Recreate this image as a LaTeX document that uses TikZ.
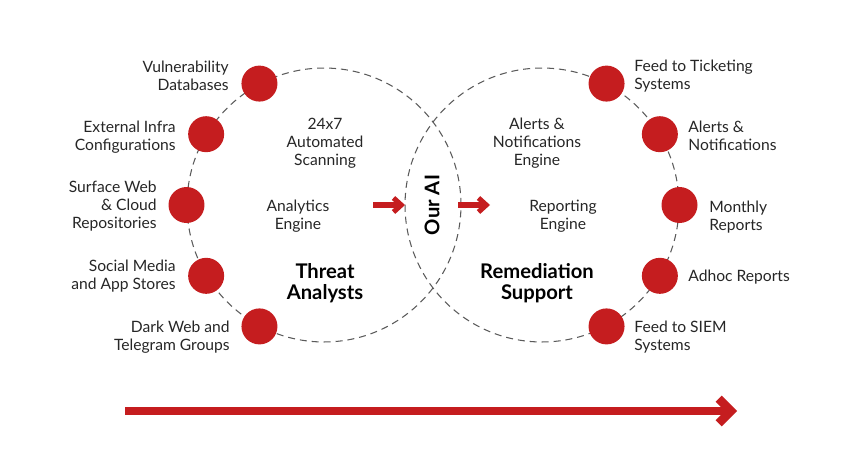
\documentclass[tikz,border=0pt]{standalone}
\usepackage{fontspec}
\setmainfont{Lato}
\usepackage{tikz}
\usetikzlibrary{arrows.meta,positioning}
\definecolor{aired}{RGB}{197,29,31}
\definecolor{ringgray}{RGB}{90,90,90}
\tikzstyle{ring}    = [circle, draw=ringgray, line width=0.6pt, dash pattern=on 4pt off 2.8pt, minimum size=5.48cm, inner sep=0pt]
\tikzstyle{dot}     = [circle, fill=aired, minimum size=0.72cm, inner sep=0pt]
\tikzstyle{lbl}     = [font=\fontsize{8.9}{10.2}\selectfont, text=black!85, inner sep=0pt]
\tikzstyle{inner}   = [lbl, align=center]
\tikzstyle{role}    = [font=\fontsize{11.5}{11.6}\selectfont\bfseries, align=center, inner sep=0pt]
\tikzstyle{flow}    = [aired, line width=2.9pt, -{Straight Barb[length=4.4pt,width=8pt]}, line join=miter]
\tikzstyle{bigflow} = [aired, line width=4.9pt, -{Straight Barb[length=7pt,width=14pt]}, line join=miter]

\begin{document}
\begin{tikzpicture}[x=0.02cm,y=-0.02cm]
		\useasboundingbox (0,0) rectangle (862,460);

		% the two rings
		\node[ring] (intake) at (324,205) {};
		\node[ring] (output) at (542,205) {};

		% sources
		\node[dot] (vuln)   at (intake.118) {};
		\node[dot] (infra)  at (intake.149) {};
		\node[dot] (web)    at (intake.180) {};
		\node[dot] (social) at (intake.211) {};
		\node[dot] (dark)   at (intake.242) {};

		\node[lbl, anchor=east, align=right] (vulnlbl)   at (229,76)  {Vulnerability\\Databases};
		\node[lbl, anchor=east, align=right] (infralbl)  at (176,137) {External Infra\\Configurations};
		\node[lbl, anchor=east, align=right] (weblbl)    at (157,206) {Surface Web\\\& Cloud\\Repositories};
		\node[lbl, anchor=east, align=right] (sociallbl) at (176,276) {Social Media\\and App Stores};
		\node[lbl, anchor=east, align=right] (darklbl)   at (230,337) {Dark Web and\\Telegram Groups};

		% outputs
		\node[dot] (ticket)  at (output.62)  {};
		\node[dot] (alerts)  at (output.31)  {};
		\node[dot] (monthly) at (output.0)   {};
		\node[dot] (adhoc)   at (output.-31) {};
		\node[dot] (siem)    at (output.-62) {};

		\node[lbl, anchor=west, align=left] (ticketlbl)  at (634,76)  {Feed to Ticketing\\Systems};
		\node[lbl, anchor=west, align=left] (alertslbl)  at (688,136) {Alerts \&\\Notifications};
		\node[lbl, anchor=west, align=left] (monthlylbl) at (709,217) {Monthly\\Reports};
		\node[lbl, anchor=west, align=left] (adhoclbl)   at (688,277) {Adhoc Reports};
		\node[lbl, anchor=west, align=left] (siemlbl)    at (634,337) {Feed to SIEM\\Systems};

		% inside the rings
		\node[inner] (scan)      at (325,143) {24x7\\Automated\\Scanning};
		\node[inner] (analytics) at (298,216) {Analytics\\Engine};
		\node[role]  (threat)    at (325,283) {Threat\\Analysts};

		\node[inner] (notify)    at (537,143) {Alerts \&\\Notifications\\Engine};
		\node[inner] (reporting) at (563,216) {Reporting\\Engine};
		\node[role]  (remedy)    at (537,283) {Remediation\\Support};

		\node[role, rotate=90] (ai) at (432,205) {Our AI};

		% flow into and out of the AI
		\coordinate (inA)  at (373,205);
		\coordinate (inB)  at (405,205);
		\coordinate (outA) at (458,205);
		\coordinate (outB) at (490,205);
		\draw[flow] (inA) -- (inB);
		\draw[flow] (outA) -- (outB);

		\coordinate (start) at (125,411);
		\coordinate (stop)  at (737,411);
		\draw[bigflow] (start) -- (stop);
	\end{tikzpicture}
\end{document}
